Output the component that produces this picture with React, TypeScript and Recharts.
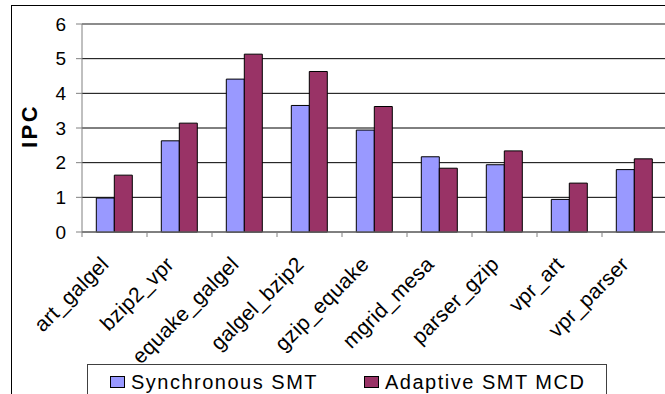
import React from "react";
import {
  BarChart,
  Bar,
  XAxis,
  YAxis,
  CartesianGrid,
  ReferenceLine,
} from "recharts";

const categories = [
  "art_galgel",
  "bzip2_vpr",
  "equake_galgel",
  "galgel_bzip2",
  "gzip_equake",
  "mgrid_mesa",
  "parser_gzip",
  "vpr_art",
  "vpr_parser",
];
const synchronousSmt = [0.98, 2.63, 4.41, 3.65, 2.94, 2.17, 1.94, 0.94, 1.8];
const adaptiveSmtMcd = [1.64, 3.14, 5.13, 4.63, 3.62, 1.84, 2.34, 1.41, 2.11];
const yTicks = [0, 1, 2, 3, 4, 5, 6];

const seriesNames = { sync: "Synchronous SMT", adaptive: "Adaptive SMT MCD" };
const colors = { sync: "#9999FF", adaptive: "#993366" };

const FONT = "'Liberation Sans', Arial, sans-serif";

// chart geometry
const CHART_W = 672;
const CHART_H = 394;
const Y_AXIS_W = 82;
const MARGIN = { top: 24, right: 5, left: 0, bottom: 62 };
const X_AXIS_H = 100;
const BAND = (CHART_W - Y_AXIS_W - MARGIN.right) / categories.length;

const data = categories.map((name, i) => ({
  name,
  sync: synchronousSmt[i],
  adaptive: adaptiveSmtMcd[i],
}));

// category names sit slanted under each group, tick marks go between groups
function CategoryTick(props: any) {
  const { x, y, payload } = props;
  const edge = x - BAND / 2;
  const tx = x - 15;
  const ty = y + 23;
  return (
    <g>
      <line x1={edge} y1={y} x2={edge} y2={y + 5} stroke="#808080" />
      <text
        x={tx}
        y={ty}
        dy={15}
        textAnchor="end"
        transform={`rotate(-45, ${tx}, ${ty})`}
        fontFamily={FONT}
        fontSize={21}
        letterSpacing={0.3}
        fill="#000"
      >
        {payload.value}
      </text>
    </g>
  );
}

function IpcLabel(props: any) {
  const { viewBox } = props;
  const cx = 29;
  const cy = viewBox.y + viewBox.height / 2 - 2;
  return (
    <text
      x={cx}
      y={cy}
      transform={`rotate(-90, ${cx}, ${cy})`}
      textAnchor="middle"
      dominantBaseline="central"
      fontFamily={FONT}
      fontWeight="bold"
      fontSize={22}
      letterSpacing={2.5}
      fill="#000"
    >
      IPC
    </text>
  );
}

function LegendBox() {
  const item = (color: string, label: string, width: number) => (
    <span style={{ display: "inline-flex", alignItems: "center", width }}>
      <span
        style={{
          display: "inline-block",
          width: 13,
          height: 10,
          background: color,
          border: "1px solid #000",
          marginRight: 6,
        }}
      />
      <span style={{ letterSpacing: 1.5 }}>{label}</span>
    </span>
  );
  return (
    <div
      style={{
        position: "absolute",
        left: 87,
        top: 364,
        boxSizing: "border-box",
        width: 520,
        height: 40,
        border: "1px solid #404040",
        padding: "5px 0 0 22px",
        fontFamily: FONT,
        fontSize: 20,
        lineHeight: "22px",
        color: "#000",
        whiteSpace: "nowrap",
        background: "#fff",
      }}
    >
      {item(colors.sync, seriesNames.sync, 254)}
      {item(colors.adaptive, seriesNames.adaptive, 240)}
    </div>
  );
}

export default function App() {
  return (
    <div
      style={{
        position: "absolute",
        left: 0,
        top: 0,
        width: 665,
        height: 394,
        overflow: "hidden",
        background: "#fff",
      }}
    >
      <div
        style={{
          position: "absolute",
          left: 11,
          top: 5,
          width: 700,
          height: 420,
          borderLeft: "1px solid #000",
          borderTop: "1px solid #000",
        }}
      />
      <BarChart
        width={CHART_W}
        height={CHART_H}
        data={data}
        margin={MARGIN}
        barCategoryGap="22%"
        barGap={0}
        style={{ position: "absolute", left: 0, top: 0 }}
      >
        <CartesianGrid vertical={false} stroke="#000" />
        <ReferenceLine y={6} stroke="#999" />
        <XAxis
          dataKey="name"
          height={X_AXIS_H}
          interval={0}
          tickSize={0}
          tickMargin={0}
          tickLine={false}
          axisLine={{ stroke: "#808080" }}
          tick={<CategoryTick />}
        />
        <YAxis
          width={Y_AXIS_W}
          domain={[0, 6]}
          ticks={yTicks}
          interval={0}
          tickSize={6}
          tickMargin={10}
          axisLine={{ stroke: "#808080" }}
          tickLine={{ stroke: "#808080" }}
          tick={{ fontFamily: FONT, fontSize: 19, fill: "#000" }}
          label={<IpcLabel />}
        />
        <Bar
          dataKey="sync"
          name={seriesNames.sync}
          fill={colors.sync}
          stroke="#000"
          strokeWidth={1}
          isAnimationActive={false}
        />
        <Bar
          dataKey="adaptive"
          name={seriesNames.adaptive}
          fill={colors.adaptive}
          stroke="#000"
          strokeWidth={1}
          isAnimationActive={false}
        />
      </BarChart>
      <LegendBox />
    </div>
  );
}
